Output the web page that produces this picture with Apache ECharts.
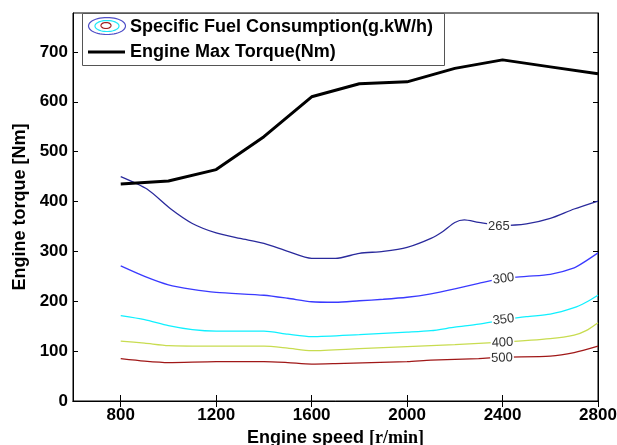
<!DOCTYPE html>
<html>
<head>
<meta charset="utf-8">
<script src="https://cdn.jsdelivr.net/npm/echarts@6/dist/echarts.min.js"></script>
<style>
html,body{margin:0;padding:0;background:#fff;}
#chart{width:617px;height:445px;}
</style>
</head>
<body>
<div id="chart"></div>
<script>
// ---- data ----
var xTicks = [800, 1200, 1600, 2000, 2400, 2800];
var yTicks = [0, 100, 200, 300, 400, 500, 600, 700];

var maxTorqueSpeed = [800, 1000, 1200, 1400, 1600, 1800, 2000, 2200, 2400, 2600, 2800];
var maxTorque      = [435, 441, 464, 530, 610, 636, 640, 667, 684, 670, 656];

var sfc265Speed = [800, 910, 1010, 1100, 1200, 1300, 1400, 1500, 1600, 1700, 1800, 1900, 2000, 2100, 2150, 2200, 2240, 2300, 2400, 2500, 2600, 2700, 2800];
var sfc265Torque = [450, 425, 385, 356, 337, 326, 316, 300, 286, 286, 296, 300, 308, 326, 340, 358, 363, 358, 352, 355, 366, 385, 401];

var sfc300Speed = [800, 900, 1000, 1100, 1200, 1400, 1500, 1600, 1700, 1800, 1900, 2000, 2100, 2200, 2300, 2400, 2500, 2600, 2700, 2750, 2800];
var sfc300Torque = [271, 250, 233, 224, 218, 212, 206, 199, 198, 201, 204, 208, 215, 225, 236, 246, 250, 254, 267, 281, 297];

var sfc350Speed = [800, 900, 1000, 1100, 1200, 1400, 1500, 1600, 1800, 2000, 2100, 2200, 2300, 2400, 2500, 2600, 2700, 2750, 2800];
var sfc350Torque = [171, 163, 151, 143, 140, 140, 134, 129, 133, 138, 141, 148, 154, 162, 169, 174, 187, 198, 212];

var sfc400Speed = [800, 900, 1000, 1200, 1400, 1500, 1600, 1800, 2000, 2200, 2400, 2600, 2700, 2750, 2800];
var sfc400Torque = [120, 116, 111, 110, 110, 106, 101, 105, 109, 113, 118, 125, 132, 141, 157];

var sfc500Speed = [800, 900, 1000, 1200, 1400, 1500, 1600, 1700, 2000, 2100, 2300, 2400, 2600, 2700, 2800];
var sfc500Torque = [85, 80, 77, 79, 79, 77, 74, 75, 79, 82, 85, 88, 90, 97, 110];

var contourLevels = ['265', '300', '350', '400', '500'];
var contourLabelSpeed = [2385, 2404, 2404, 2400, 2398];
var contourLabelTorque = [351, 245, 163, 117, 86];
var contourLabelRotate = [0, 8, 7, 3, 2];
var contourColors = ['#2a2a9c', '#3a3aff', '#10f0ff', '#c8dc50', '#a01818'];

function pairs(xs, ys) { return xs.map(function (x, i) { return [x, ys[i]]; }); }

var contourData = [
  pairs(sfc265Speed, sfc265Torque),
  pairs(sfc300Speed, sfc300Torque),
  pairs(sfc350Speed, sfc350Torque),
  pairs(sfc400Speed, sfc400Torque),
  pairs(sfc500Speed, sfc500Torque)
];

var FONT = '"Liberation Sans", Arial, sans-serif';
function plain(v) { return String(v); }

var series = contourLevels.map(function (lvl, i) {
  return {
    type: 'line',
    name: 'SFC ' + lvl,
    data: contourData[i],
    showSymbol: false,
    smooth: 0.25,
    lineStyle: { color: contourColors[i], width: 1.3 },
    z: 3,
    markPoint: {
      symbol: 'rect',
      symbolSize: 0,
      silent: true,
      data: [{ coord: [contourLabelSpeed[i], contourLabelTorque[i]], value: lvl }],
      label: {
        show: true,
        position: 'inside',
        formatter: lvl,
        fontFamily: FONT,
        fontSize: 13,
        color: '#333',
        backgroundColor: '#fff',
        padding: [0, 1],
        rotate: contourLabelRotate[i]
      }
    }
  };
});

series.push({
  type: 'line',
  name: 'Engine Max Torque(Nm)',
  data: pairs(maxTorqueSpeed, maxTorque),
  showSymbol: false,
  lineStyle: { color: '#000', width: 3 },
  z: 5
});

// legend icon (ellipses) helper
function ellipse(cx, cy, rx, ry) {
  var pts = [];
  for (var k = 0; k < 48; k++) {
    var a = k / 48 * Math.PI * 2;
    pts.push([cx + rx * Math.cos(a), cy + ry * Math.sin(a)]);
  }
  return pts;
}

var chart = echarts.init(document.getElementById('chart'), null, { renderer: 'canvas' });
chart.setOption({
  backgroundColor: '#fff',
  animation: false,
  grid: { left: 73, right: 19, top: 13, bottom: 44, containLabel: false, outerBoundsMode: 'none', show: true, borderColor: '#000', borderWidth: 1, backgroundColor: 'transparent' },
  xAxis: [{
    type: 'value', min: 600, max: 2800, position: 'bottom',
    axisLine: { show: true, lineStyle: { color: '#000', width: 1 } },
    axisTick: { show: true, inside: true, length: 6, customValues: xTicks, lineStyle: { color: '#000' } },
    axisLabel: { customValues: xTicks, formatter: plain, color: '#000', fontFamily: FONT, fontWeight: 'bold', fontSize: 17, margin: 6 },
    splitLine: { show: false },
    name: '{a|Engine speed }{b|[r/min]}',
    nameLocation: 'middle',
    nameGap: 26,
    nameTextStyle: {
      rich: {
        a: { fontFamily: FONT, fontWeight: 'bold', fontSize: 18, color: '#000' },
        b: { fontFamily: '"Liberation Serif", "Times New Roman", serif', fontWeight: 'bold', fontSize: 18, color: '#000' }
      }
    }
  }, {
    type: 'value', min: 600, max: 2800, position: 'top',
    axisLine: { show: true, lineStyle: { color: '#000', width: 1 } },
    axisTick: { show: true, inside: true, length: 6, customValues: xTicks, lineStyle: { color: '#000' } },
    axisLabel: { show: false },
    splitLine: { show: false }
  }],
  yAxis: [{
    type: 'value', min: 0, max: 778, position: 'left',
    axisLine: { show: true, lineStyle: { color: '#000', width: 1 } },
    axisTick: { show: true, inside: true, length: 5, customValues: yTicks, lineStyle: { color: '#000' } },
    axisLabel: { customValues: yTicks, formatter: plain, color: '#000', fontFamily: FONT, fontWeight: 'bold', fontSize: 17, margin: 5 },
    splitLine: { show: false },
    name: 'Engine torque [Nm]',
    nameLocation: 'middle',
    nameGap: 44,
    nameTextStyle: { fontFamily: FONT, fontWeight: 'bold', fontSize: 18, color: '#000' }
  }, {
    type: 'value', min: 0, max: 778, position: 'right',
    axisLine: { show: true, lineStyle: { color: '#000', width: 1 } },
    axisTick: { show: true, inside: true, length: 5, customValues: yTicks, lineStyle: { color: '#000' } },
    axisLabel: { show: false },
    splitLine: { show: false }
  }],
  series: series,
  graphic: [
    { type: 'rect', z: 100, shape: { x: 82.5, y: 13.5, width: 362, height: 52 }, style: { fill: '#fff', stroke: '#555', lineWidth: 1 } },
    { type: 'polygon', z: 101, shape: { points: ellipse(107, 26, 18.5, 8.5) }, style: { fill: 'none', stroke: '#5050c8', lineWidth: 1.2 } },
    { type: 'polygon', z: 101, shape: { points: ellipse(107, 26, 12, 5.5) }, style: { fill: 'none', stroke: '#20e8f8', lineWidth: 1.2 } },
    { type: 'polygon', z: 101, shape: { points: ellipse(106, 25.5, 5, 3) }, style: { fill: 'none', stroke: '#a02020', lineWidth: 1.2 } },
    { type: 'line', z: 101, shape: { x1: 88, y1: 52, x2: 125, y2: 52 }, style: { stroke: '#000', lineWidth: 3 } },
    { type: 'text', z: 101, x: 130, y: 27, style: { text: 'Specific Fuel Consumption(g.kW/h)', font: 'bold 18px ' + FONT, fill: '#000', verticalAlign: 'middle' } },
    { type: 'text', z: 101, x: 130, y: 52, style: { text: 'Engine Max Torque(Nm)', font: 'bold 18px ' + FONT, fill: '#000', verticalAlign: 'middle' } }
  ]
});
</script>
</body>
</html>
